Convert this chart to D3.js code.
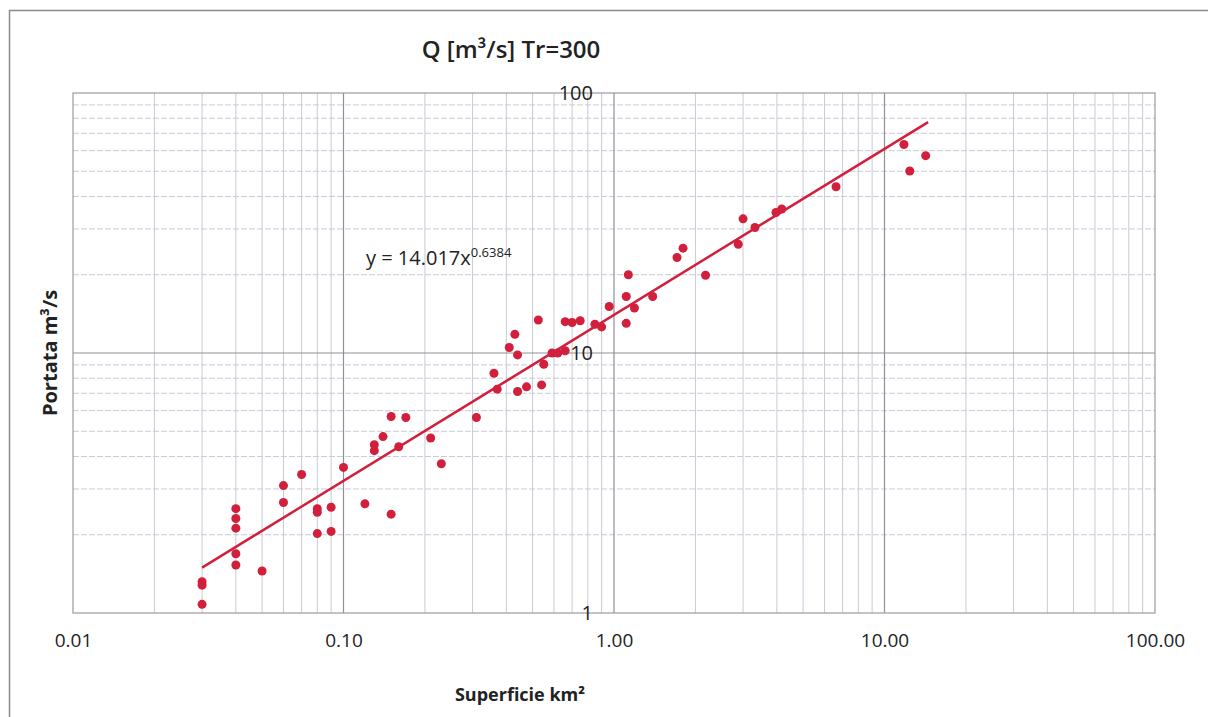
<!DOCTYPE html>
<html>
<head>
<meta charset="utf-8">
<script src="https://cdn.jsdelivr.net/npm/d3@7"></script>
<style>
  body { margin: 0; background: #fff; }
  svg text { font-family: "Open Sans", "Noto Sans", sans-serif; fill: #222; }
</style>
</head>
<body>
<div id="chart"></div>
<script>
// data (area km2, flow m3/s)
let areaKm2 = [0.03, 0.03, 0.03, 0.04, 0.04, 0.04, 0.04, 0.04, 0.05, 0.06, 0.06, 0.07,
  0.08, 0.08, 0.08, 0.09, 0.09, 0.10, 0.12, 0.13, 0.13, 0.14, 0.15, 0.15, 0.16, 0.17,
  0.21, 0.23, 0.31, 0.36, 0.37, 0.41, 0.43, 0.44, 0.44, 0.475, 0.525, 0.54, 0.55, 0.59,
  0.62, 0.66, 0.66, 0.70, 0.75, 0.85, 0.90, 0.96, 1.11, 1.11, 1.13, 1.19, 1.39, 1.71,
  1.80, 2.18, 2.88, 3.0, 3.32, 3.97, 4.17, 6.62, 11.8, 12.4, 14.2];
let flowM3s = [1.32, 1.28, 1.08, 2.52, 2.31, 2.12, 1.69, 1.53, 1.45, 3.09, 2.66, 3.41,
  2.52, 2.44, 2.02, 2.55, 2.06, 3.63, 2.63, 4.44, 4.21, 4.77, 5.70, 2.40, 4.36, 5.65,
  4.71, 3.75, 5.65, 8.36, 7.26, 10.5, 11.8, 9.83, 7.11, 7.41, 13.4, 7.54, 9.05, 10.0,
  10.0, 10.2, 13.2, 13.1, 13.3, 12.9, 12.6, 15.1, 13.0, 16.5, 20.0, 14.9, 16.5, 23.3,
  25.3, 19.9, 26.2, 32.8, 30.4, 34.7, 35.8, 43.6, 63.4, 50.1, 57.4];

// power trendline y = a * x^b
let trendA = 14.017;
let trendB = 0.6384;
let trendRange = [0.03, 14.5];

let xTickValues = [0.01, 0.1, 1, 10, 100];
let xTickLabels = ['0.01', '0.10', '1.00', '10.00', '100.00'];
let yTickValues = [1, 10, 100];
let yTickLabels = ['1', '10', '100'];

let svgWidth = 1208;
let svgHeight = 717;
let margin = { top: 93, right: 53, bottom: 104, left: 73 };
let width = svgWidth - margin.left - margin.right;
let height = svgHeight - margin.top - margin.bottom;

let red = '#d11f3c';

let svg = d3.select('#chart').append('svg')
  .attr('width', svgWidth)
  .attr('height', svgHeight);

// outer frame of the chart object
svg.append('rect')
  .attr('x', 9.5).attr('y', 10.5)
  .attr('width', svgWidth + 20).attr('height', svgHeight + 20)
  .attr('fill', 'none')
  .attr('stroke', '#8c8c8c')
  .attr('stroke-width', 1.5);

let chartGroup = svg.append('g')
  .attr('transform', `translate(${margin.left}, ${margin.top})`);

let x = d3.scaleLog().domain([0.01, 100]).range([0, width]);
let y = d3.scaleLog().domain([1, 100]).range([height, 0]);

// minor gridlines
let minorX = [];
let minorY = [];
[0.01, 0.1, 1, 10].forEach(d => { for (let k = 2; k <= 9; k++) minorX.push(d * k); });
[1, 10].forEach(d => { for (let k = 2; k <= 9; k++) minorY.push(d * k); });

chartGroup.append('g')
  .selectAll('line')
  .data(minorX)
  .enter()
  .append('line')
  .attr('x1', d => x(d)).attr('x2', d => x(d))
  .attr('y1', 0).attr('y2', height)
  .attr('stroke', '#c9cad6')
  .attr('stroke-width', 1);

chartGroup.append('g')
  .selectAll('line')
  .data(minorY)
  .enter()
  .append('line')
  .attr('x1', 0).attr('x2', width)
  .attr('y1', d => y(d)).attr('y2', d => y(d))
  .attr('stroke', '#c9cad6')
  .attr('stroke-width', 1)
  .attr('stroke-dasharray', '6,2');

// major gridlines
chartGroup.append('g')
  .selectAll('line')
  .data(xTickValues.slice(1, -1))
  .enter()
  .append('line')
  .attr('x1', d => x(d)).attr('x2', d => x(d))
  .attr('y1', 0).attr('y2', height)
  .attr('stroke', '#8f909a')
  .attr('stroke-width', 1.2);

chartGroup.append('g')
  .selectAll('line')
  .data([10])
  .enter()
  .append('line')
  .attr('x1', 0).attr('x2', width)
  .attr('y1', d => y(d)).attr('y2', d => y(d))
  .attr('stroke', '#8f909a')
  .attr('stroke-width', 1.2);

// plot area border
chartGroup.append('rect')
  .attr('width', width).attr('height', height)
  .attr('fill', 'none')
  .attr('stroke', '#9a9aa2')
  .attr('stroke-width', 1.2);

// x axis labels
let bottomAxis = d3.axisBottom(x)
  .tickValues(xTickValues)
  .tickFormat((d, i) => xTickLabels[i])
  .tickSize(0)
  .tickPadding(21);

let xAxis = chartGroup.append('g')
  .attr('transform', `translate(0, ${height})`)
  .call(bottomAxis);
xAxis.select('.domain').remove();
xAxis.selectAll('text')
  .attr('font-size', '19px')
  .attr('font-family', '"Open Sans", sans-serif')
  .attr('fill', '#333');

// y axis sits on x = 1 with labels to its left
let leftAxis = d3.axisLeft(y)
  .tickValues(yTickValues)
  .tickFormat((d, i) => yTickLabels[i])
  .tickSize(0)
  .tickPadding(21);

let yAxis = chartGroup.append('g')
  .attr('transform', `translate(${x(1)}, 0)`)
  .call(leftAxis);
yAxis.select('.domain').remove();
yAxis.selectAll('text')
  .attr('font-size', '20px')
  .attr('font-family', '"Open Sans", sans-serif')
  .attr('fill', '#333');

// trendline
let trendData = trendRange.map(v => [v, trendA * Math.pow(v, trendB)]);
chartGroup.append('line')
  .attr('x1', x(trendData[0][0])).attr('y1', y(trendData[0][1]))
  .attr('x2', x(trendData[1][0])).attr('y2', y(trendData[1][1]))
  .attr('stroke', red)
  .attr('stroke-width', 2.5);

// points
chartGroup.append('g')
  .selectAll('circle')
  .data(areaKm2)
  .enter()
  .append('circle')
  .attr('cx', d => x(d))
  .attr('cy', (d, i) => y(flowM3s[i]))
  .attr('r', 4.5)
  .attr('fill', red);

// equation label
let eq = svg.append('text')
  .attr('x', 366)
  .attr('y', 265)
  .attr('font-size', '20px')
  .attr('fill', '#333');
eq.append('tspan').text('y = 14.017x');
eq.append('tspan')
  .attr('dy', -8)
  .attr('font-size', '13px')
  .text('0.6384');

// title
svg.append('text')
  .attr('x', 511)
  .attr('y', 58)
  .attr('text-anchor', 'middle')
  .attr('font-size', '24px')
  .attr('font-weight', 600)
  .text('Q [m³/s] Tr=300');

// axis titles
svg.append('text')
  .attr('x', 520)
  .attr('y', 701)
  .attr('text-anchor', 'middle')
  .attr('font-size', '18px')
  .attr('font-weight', 700)
  .text('Superficie km²');

svg.append('text')
  .attr('transform', `translate(57, ${margin.top + height / 2}) rotate(-90)`)
  .attr('text-anchor', 'middle')
  .attr('font-size', '20px')
  .attr('font-weight', 700)
  .text('Portata m³/s');
</script>
</body>
</html>
